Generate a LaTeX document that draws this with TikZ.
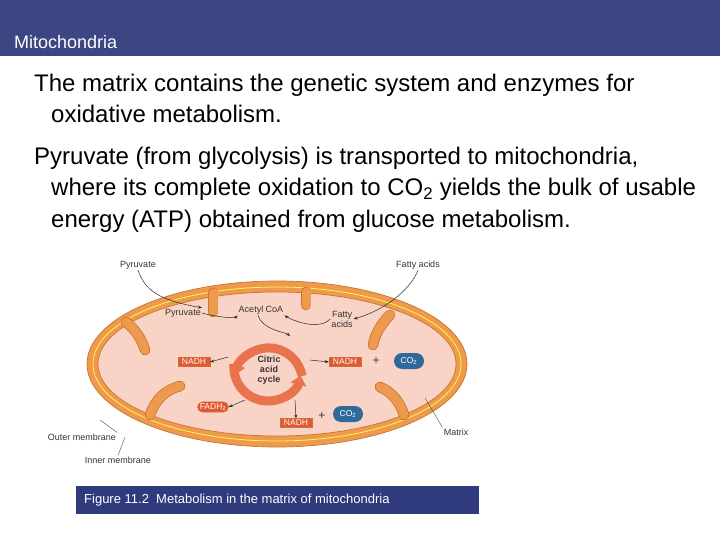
\documentclass[tikz,border=0pt]{standalone}
\usepackage{fontspec}
\setmainfont{Liberation Sans}
\usetikzlibrary{arrows.meta,shapes.misc}
\definecolor{banner}{HTML}{3C4682}
\definecolor{capblue}{HTML}{2F3B7C}
\definecolor{memb}{HTML}{EE9A4E}
\definecolor{membdark}{HTML}{C8742E}
\definecolor{matrixc}{HTML}{F9D3C6}
\definecolor{nadh}{HTML}{E0573A}
\definecolor{cob}{HTML}{2F6A9A}
\definecolor{cyc}{HTML}{E8734C}
\tikzset{
 body/.style={anchor=base west,font=\fontsize{24}{28}\selectfont,inner sep=0},
 lab/.style={font=\fontsize{9}{10}\selectfont,text=black!80,inner sep=1pt,align=center},
 nbox/.style={fill=nadh,draw=membdark,text=white!90!yellow,font=\fontsize{8.5}{9}\selectfont,inner sep=1.5pt,minimum width=32pt},
 fbox/.style={nbox,rounded rectangle,minimum width=34pt},
 cobox/.style={fill=cob,text=white,font=\fontsize{8.5}{9}\selectfont,rounded rectangle,minimum width=32pt,minimum height=16pt,inner sep=1pt},
 thin/.style={-{Stealth[length=4pt]},line width=0.5pt,black!85},
 lead/.style={line width=0.4pt,black!70},
 crista/.style={draw=membdark,double=memb,double distance=9pt,line width=0.8pt,line cap=round},
}
\begin{document}
\begin{tikzpicture}[x=1pt,y=-1pt]
\useasboundingbox (0,0) rectangle (720,540);
\fill[banner] (0,0) rectangle (720,56);
\node[anchor=base west,text=white,font=\fontsize{18}{20}\selectfont,inner sep=0] (title) at (14,49) {Mitochondria};
\node[body] (t1) at (34,92) {The matrix contains the genetic system and enzymes for};
\node[body] (t2) at (51,123) {oxidative metabolism.};
\node[body] (t3) at (34,165) {Pyruvate (from glycolysis) is transported to mitochondria,};
\node[body] (t4) at (51,196) {where its complete oxidation to CO\textsubscript{2} yields the bulk of usable};
\node[body] (t5) at (51,227) {energy (ATP) obtained from glucose metabolism.};
% mitochondrion
\fill[memb] (277,364) ellipse [x radius=190,y radius=83];
\draw[membdark,line width=0.7pt] (277,364) ellipse [x radius=190,y radius=83];
\draw[yellow!70!white,line width=0.8pt] (277,364) ellipse [x radius=184,y radius=77];
\fill[matrixc] (277,364) ellipse [x radius=179,y radius=72];
\draw[membdark,line width=0.7pt] (277,364) ellipse [x radius=179,y radius=72];
% cristae
\draw[crista] (126,322) .. controls (136,330) and (142,340) .. (145,350);
\draw[crista] (213,293) -- (213,312);
\draw[crista] (306,292) -- (306,305);
\draw[crista] (390,315) .. controls (380,325) and (375,335) .. (373,345);
\draw[crista] (150,415) .. controls (155,400) and (165,390) .. (180,386);
\draw[crista] (404,415) .. controls (400,402) and (392,392) .. (380,387);
% labels
\node[lab] (pyo) at (138,265) {Pyruvate};
\node[lab] (fao) at (418,265) {Fatty acids};
\node[lab] (pyi) at (183,313) {Pyruvate};
\node[lab] (acoa) at (261,310) {Acetyl CoA};
\node[lab] (fai) at (342,319) {Fatty\\acids};
\node[lab,font=\fontsize{9}{10}\selectfont\bfseries] (cac) at (269,370) {Citric\\acid\\cycle};
\node[nbox] (n1) at (194,362) {NADH};
\node[nbox] (n2) at (345,362) {NADH};
\node[nbox] (n3) at (296,423) {NADH};
\node[fbox] (fad) at (213,407) {FADH\textsubscript{2}};
\node[cobox] (c1) at (409,361) {CO\textsubscript{2}};
\node[cobox] (c2) at (348,414) {CO\textsubscript{2}};
\node[lab,font=\fontsize{12}{12}\selectfont] (p1) at (376,361) {+};
\node[lab,font=\fontsize{12}{12}\selectfont] (p2) at (322,416) {+};
\node[lab] (mat) at (456,432) {Matrix};
\node[lab] (om) at (82,437) {Outer membrane};
\node[lab] (im) at (118,460) {Inner membrane};
% cycle arrows
\draw[line width=9pt,color=cyc,-{Triangle[length=9pt,width=16pt]}] (234,364) arc[start angle=185,end angle=15,radius=34];
\draw[line width=9pt,color=cyc,-{Triangle[length=9pt,width=16pt]}] (302,376) arc[start angle=-10,end angle=-168,radius=34];
% connectors
\draw[thin] (pyo.south) .. controls (145,290) and (158,300) .. (pyi.north east);
\draw[thin] (fao.south) .. controls (410,290) and (385,310) .. (fai.east);
\draw[thin] (pyi.east) .. controls (220,318) and (235,318) .. (acoa.south west);
\draw[thin] (fai.west) .. controls (320,330) and (295,322) .. (acoa.south east);
\draw[thin] (258,315) .. controls (262,330) and (285,332) .. (290,336);
\coordinate (cl) at (228,357);
\draw[thin] (cl) -- (n1.east);
\coordinate (cr) at (310,360);
\draw[thin] (cr) -- (n2.west);
\coordinate (cb) at (245,400);
\draw[thin] (cb) -- (fad.east);
\coordinate (cd) at (295,400);
\draw[thin] (cd) -- (n3.north);
\coordinate (mt) at (425,398);
\draw[lead] (mat.north west) -- (mt);
\coordinate (omt) at (100,420);
\draw[lead] (om.north east) -- (omt);
\coordinate (imt) at (125,437);
\draw[lead] (im.north) -- (imt);
% caption
\node[fill=capblue,anchor=north west,minimum width=403pt,minimum height=28pt,inner sep=0] (capbox) at (76,486) {};
\node[anchor=west,text=white,font=\fontsize{13}{14}\selectfont,inner sep=0] (cap) at (84,500) {Figure 11.2\ \ Metabolism in the matrix of mitochondria};
\end{tikzpicture}
\end{document}
